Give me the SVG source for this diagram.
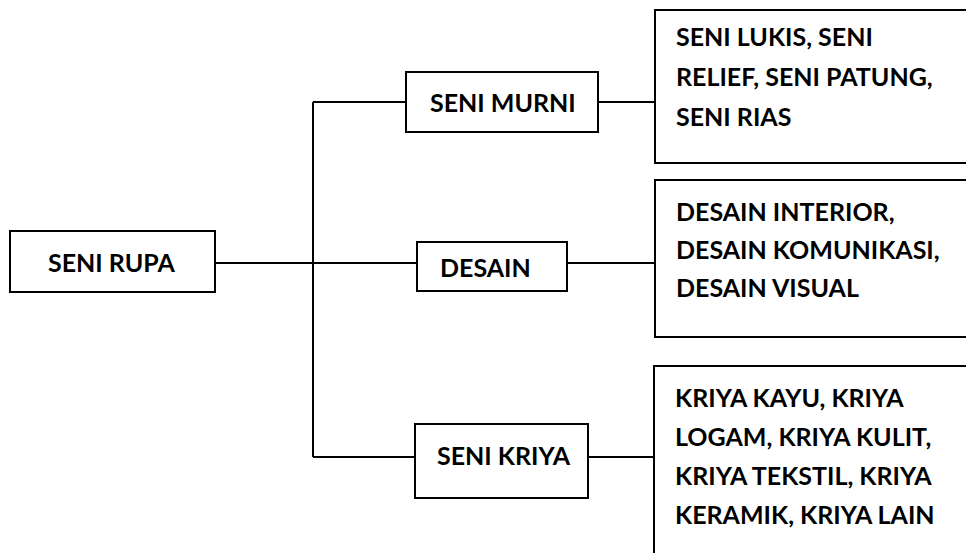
<svg xmlns="http://www.w3.org/2000/svg" width="966" height="553" viewBox="0 0 966 553">
<style>
.box{fill:#fff;stroke:#000;stroke-width:2}
.ln{fill:none;stroke:#000;stroke-width:2}
text{font-family:Lato,"Open Sans","Liberation Sans",sans-serif;font-weight:bold;font-size:25px;fill:#000}
</style>
<rect width="966" height="553" fill="#fff"/>
<g id="connectors">
<path class="ln" d="M215 263 H313 M313 102 V457 M313 102 H406 M313 263 H417 M313 457 H415 M598 102 H656 M567 263 H656 M588 457 H654"/>
</g>
<g id="seni-rupa"><rect class="box" x="10" y="231" width="205" height="61"/><text x="48" y="272">SENI RUPA</text></g>
<g id="seni-murni"><rect class="box" x="406" y="72" width="192" height="60"/><text x="430" y="112">SENI MURNI</text></g>
<g id="desain"><rect class="box" x="417" y="242" width="150" height="49"/><text x="440" y="277">DESAIN</text></g>
<g id="seni-kriya"><rect class="box" x="415" y="424" width="173" height="74"/><text x="437" y="465">SENI KRIYA</text></g>
<g id="murni-list"><rect class="box" x="655" y="10" width="330" height="153"/>
<text x="676" y="46">SENI LUKIS, SENI</text><text x="676" y="86">RELIEF, SENI PATUNG,</text><text x="676" y="126">SENI RIAS</text></g>
<g id="desain-list"><rect class="box" x="655" y="180" width="330" height="157"/>
<text x="676" y="221">DESAIN INTERIOR,</text><text x="676" y="259">DESAIN KOMUNIKASI,</text><text x="676" y="297">DESAIN VISUAL</text></g>
<g id="kriya-list"><rect class="box" x="654" y="366" width="330" height="200"/>
<text x="675" y="407">KRIYA KAYU, KRIYA</text><text x="675" y="446">LOGAM, KRIYA KULIT,</text><text x="675" y="485">KRIYA TEKSTIL, KRIYA</text><text x="675" y="524">KERAMIK, KRIYA LAIN</text></g>
</svg>
